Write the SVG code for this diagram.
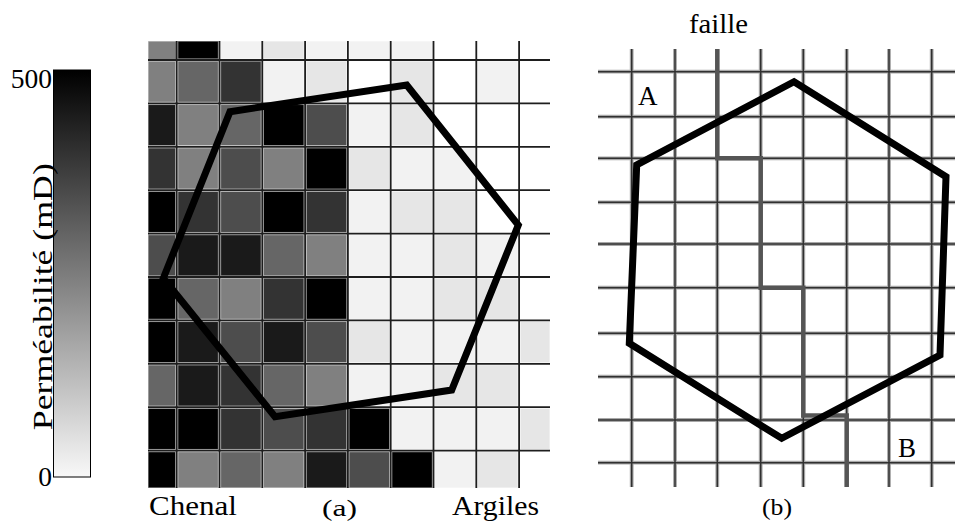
<svg xmlns="http://www.w3.org/2000/svg" width="955" height="523" viewBox="0 0 955 523">
<style>
.t{font-family:"Liberation Serif","DejaVu Serif",serif;fill:#000}
.ga{stroke:#1e1e1e;stroke-width:1.8;fill:none}
.gbh{stroke:#a8a8a8;stroke-width:3.8;fill:none}
.gb{stroke:#303030;stroke-width:1.5;fill:none}
.hex{fill:none;stroke:#000;stroke-width:7;stroke-linejoin:miter}
.cell{stroke:#ffffff;stroke-opacity:0.55;stroke-width:1.3}
</style>
<defs>
<linearGradient id="cb" x1="0" y1="0" x2="0" y2="1">
<stop offset="0" stop-color="#000"/>
<stop offset="1" stop-color="#f8f8f8"/>
</linearGradient>
</defs>
<rect width="955" height="523" fill="#fff"/>

<g id="colorbar">
<rect x="53.5" y="70" width="37" height="407" fill="url(#cb)" stroke="#000" stroke-width="1"/>
<text class="t" x="52" y="88" font-size="27.5" text-anchor="end">500</text>
<text class="t" x="52" y="486" font-size="27.5" text-anchor="end">0</text>
<text class="t" transform="translate(52,296.7) rotate(-90)" font-size="28" text-anchor="middle" textLength="267" lengthAdjust="spacingAndGlyphs">Perméabilité (mD)</text>
</g>

<g id="panel-a">
<g id="cells-a">
<!-- row 0 -->
<rect class="cell" x="148" y="41" width="28.7" height="19" fill="#808080"/>
<rect class="cell" x="177.7" y="41" width="40.8" height="18" fill="#000"/>
<rect class="cell" x="220.5" y="41" width="40.8" height="18" fill="#f2f2f2"/>
<rect class="cell" x="263.3" y="41" width="40.8" height="18" fill="#e6e6e6"/>
<rect class="cell" x="306.1" y="41" width="40.8" height="18" fill="#f2f2f2"/>
<rect class="cell" x="348.9" y="41" width="40.8" height="18" fill="#f2f2f2"/>
<rect class="cell" x="391.7" y="41" width="40.8" height="18" fill="#f2f2f2"/>
<!-- row 1 -->
<rect class="cell" x="148" y="61" width="27.7" height="41.4" fill="#808080"/>
<rect class="cell" x="177.7" y="61" width="40.8" height="41.4" fill="#666"/>
<rect class="cell" x="220.5" y="61" width="40.8" height="41.4" fill="#333"/>
<rect class="cell" x="263.3" y="61" width="40.8" height="41.4" fill="#f2f2f2"/>
<rect class="cell" x="306.1" y="61" width="40.8" height="41.4" fill="#e6e6e6"/>
<rect class="cell" x="391.7" y="61" width="40.8" height="41.4" fill="#e6e6e6"/>
<rect class="cell" x="477.3" y="61" width="40.8" height="41.4" fill="#f2f2f2"/>
<!-- row 2 -->
<rect class="cell" x="148" y="104.4" width="27.7" height="41.4" fill="#1a1a1a"/>
<rect class="cell" x="177.7" y="104.4" width="40.8" height="41.4" fill="#808080"/>
<rect class="cell" x="220.5" y="104.4" width="40.8" height="41.4" fill="#666"/>
<rect class="cell" x="263.3" y="104.4" width="40.8" height="41.4" fill="#000"/>
<rect class="cell" x="306.1" y="104.4" width="40.8" height="41.4" fill="#4d4d4d"/>
<rect class="cell" x="348.9" y="104.4" width="40.8" height="41.4" fill="#f2f2f2"/>
<rect class="cell" x="391.7" y="104.4" width="40.8" height="41.4" fill="#e6e6e6"/>
<!-- row 3 -->
<rect class="cell" x="148" y="147.8" width="27.7" height="41.4" fill="#333"/>
<rect class="cell" x="177.7" y="147.8" width="40.8" height="41.4" fill="#808080"/>
<rect class="cell" x="220.5" y="147.8" width="40.8" height="41.4" fill="#4d4d4d"/>
<rect class="cell" x="263.3" y="147.8" width="40.8" height="41.4" fill="#808080"/>
<rect class="cell" x="306.1" y="147.8" width="40.8" height="41.4" fill="#000"/>
<rect class="cell" x="348.9" y="147.8" width="40.8" height="41.4" fill="#e6e6e6"/>
<rect class="cell" x="391.7" y="147.8" width="40.8" height="41.4" fill="#f2f2f2"/>
<rect class="cell" x="434.5" y="147.8" width="40.8" height="41.4" fill="#f2f2f2"/>
<!-- row 4 -->
<rect class="cell" x="148" y="191.2" width="27.7" height="41.4" fill="#000"/>
<rect class="cell" x="177.7" y="191.2" width="40.8" height="41.4" fill="#333"/>
<rect class="cell" x="220.5" y="191.2" width="40.8" height="41.4" fill="#4d4d4d"/>
<rect class="cell" x="263.3" y="191.2" width="40.8" height="41.4" fill="#000"/>
<rect class="cell" x="306.1" y="191.2" width="40.8" height="41.4" fill="#333"/>
<rect class="cell" x="348.9" y="191.2" width="40.8" height="41.4" fill="#f2f2f2"/>
<rect class="cell" x="391.7" y="191.2" width="40.8" height="41.4" fill="#e6e6e6"/>
<rect class="cell" x="434.5" y="191.2" width="40.8" height="41.4" fill="#e6e6e6"/>
<!-- row 5 -->
<rect class="cell" x="148" y="234.6" width="27.7" height="41.4" fill="#4d4d4d"/>
<rect class="cell" x="177.7" y="234.6" width="40.8" height="41.4" fill="#1a1a1a"/>
<rect class="cell" x="220.5" y="234.6" width="40.8" height="41.4" fill="#1a1a1a"/>
<rect class="cell" x="263.3" y="234.6" width="40.8" height="41.4" fill="#666"/>
<rect class="cell" x="306.1" y="234.6" width="40.8" height="41.4" fill="#808080"/>
<rect class="cell" x="348.9" y="234.6" width="40.8" height="41.4" fill="#f2f2f2"/>
<rect class="cell" x="391.7" y="234.6" width="40.8" height="41.4" fill="#f2f2f2"/>
<rect class="cell" x="434.5" y="234.6" width="40.8" height="41.4" fill="#e6e6e6"/>
<rect class="cell" x="477.3" y="234.6" width="40.8" height="41.4" fill="#f2f2f2"/>
<!-- row 6 -->
<rect class="cell" x="148" y="278" width="27.7" height="41.4" fill="#000"/>
<rect class="cell" x="177.7" y="278" width="40.8" height="41.4" fill="#666"/>
<rect class="cell" x="220.5" y="278" width="40.8" height="41.4" fill="#808080"/>
<rect class="cell" x="263.3" y="278" width="40.8" height="41.4" fill="#333"/>
<rect class="cell" x="306.1" y="278" width="40.8" height="41.4" fill="#000"/>
<rect class="cell" x="348.9" y="278" width="40.8" height="41.4" fill="#f2f2f2"/>
<rect class="cell" x="391.7" y="278" width="40.8" height="41.4" fill="#f2f2f2"/>
<rect class="cell" x="434.5" y="278" width="40.8" height="41.4" fill="#e6e6e6"/>
<rect class="cell" x="477.3" y="278" width="40.8" height="41.4" fill="#e6e6e6"/>
<!-- row 7 -->
<rect class="cell" x="148" y="321.4" width="27.7" height="41.4" fill="#000"/>
<rect class="cell" x="177.7" y="321.4" width="40.8" height="41.4" fill="#1a1a1a"/>
<rect class="cell" x="220.5" y="321.4" width="40.8" height="41.4" fill="#4d4d4d"/>
<rect class="cell" x="263.3" y="321.4" width="40.8" height="41.4" fill="#1a1a1a"/>
<rect class="cell" x="306.1" y="321.4" width="40.8" height="41.4" fill="#4d4d4d"/>
<rect class="cell" x="348.9" y="321.4" width="40.8" height="41.4" fill="#e6e6e6"/>
<rect class="cell" x="391.7" y="321.4" width="40.8" height="41.4" fill="#f2f2f2"/>
<rect class="cell" x="434.5" y="321.4" width="40.8" height="41.4" fill="#f2f2f2"/>
<rect class="cell" x="477.3" y="321.4" width="40.8" height="41.4" fill="#f2f2f2"/>
<rect class="cell" x="520.1" y="321.4" width="29.9" height="41.4" fill="#e6e6e6"/>
<!-- row 8 -->
<rect class="cell" x="148" y="364.8" width="27.7" height="41.4" fill="#666"/>
<rect class="cell" x="177.7" y="364.8" width="40.8" height="41.4" fill="#1a1a1a"/>
<rect class="cell" x="220.5" y="364.8" width="40.8" height="41.4" fill="#333"/>
<rect class="cell" x="263.3" y="364.8" width="40.8" height="41.4" fill="#666"/>
<rect class="cell" x="306.1" y="364.8" width="40.8" height="41.4" fill="#808080"/>
<rect class="cell" x="348.9" y="364.8" width="40.8" height="41.4" fill="#f2f2f2"/>
<rect class="cell" x="391.7" y="364.8" width="40.8" height="41.4" fill="#f2f2f2"/>
<rect class="cell" x="434.5" y="364.8" width="40.8" height="41.4" fill="#e6e6e6"/>
<rect class="cell" x="477.3" y="364.8" width="40.8" height="41.4" fill="#e6e6e6"/>
<!-- row 9 -->
<rect class="cell" x="148" y="408.2" width="27.7" height="41.4" fill="#000"/>
<rect class="cell" x="177.7" y="408.2" width="40.8" height="41.4" fill="#000"/>
<rect class="cell" x="220.5" y="408.2" width="40.8" height="41.4" fill="#333"/>
<rect class="cell" x="263.3" y="408.2" width="40.8" height="41.4" fill="#4d4d4d"/>
<rect class="cell" x="306.1" y="408.2" width="40.8" height="41.4" fill="#333"/>
<rect class="cell" x="348.9" y="408.2" width="40.8" height="41.4" fill="#000"/>
<rect class="cell" x="391.7" y="408.2" width="40.8" height="41.4" fill="#f2f2f2"/>
<rect class="cell" x="434.5" y="408.2" width="40.8" height="41.4" fill="#f2f2f2"/>
<rect class="cell" x="477.3" y="408.2" width="40.8" height="41.4" fill="#f2f2f2"/>
<rect class="cell" x="520.1" y="408.2" width="29.9" height="41.4" fill="#e6e6e6"/>
<!-- row 10 -->
<rect class="cell" x="148" y="451.6" width="27.7" height="36.4" fill="#000"/>
<rect class="cell" x="177.7" y="451.6" width="40.8" height="36.4" fill="#808080"/>
<rect class="cell" x="220.5" y="451.6" width="40.8" height="36.4" fill="#666"/>
<rect class="cell" x="263.3" y="451.6" width="40.8" height="36.4" fill="#808080"/>
<rect class="cell" x="306.1" y="451.6" width="40.8" height="36.4" fill="#1a1a1a"/>
<rect class="cell" x="348.9" y="451.6" width="40.8" height="36.4" fill="#4d4d4d"/>
<rect class="cell" x="391.7" y="451.6" width="40.8" height="36.4" fill="#000"/>
<rect class="cell" x="434.5" y="451.6" width="40.8" height="36.4" fill="#f2f2f2"/>
<rect class="cell" x="477.3" y="451.6" width="40.8" height="36.4" fill="#e6e6e6"/>
</g>
<path id="grid-a" class="ga" d="M176.7 41V488M219.5 41V488M262.3 41V488M305.1 41V488M347.9 41V488M390.7 41V488M433.5 41V488M476.3 41V488M519.1 41V488M148 60H550M148 103.4H550M148 146.8H550M148 190.2H550M148 233.6H550M148 277H550M148 320.4H550M148 363.8H550M148 407.2H550M148 450.6H550"/>
<polygon id="hex-a" class="hex" points="230,111.7 406.7,85 518.3,225 451.7,390 275,416.7 163.3,278.3"/>
<text class="t" x="149" y="515" font-size="28" textLength="88" lengthAdjust="spacingAndGlyphs">Chenal</text>
<text class="t" x="322" y="516" font-size="23" textLength="35" lengthAdjust="spacingAndGlyphs">(a)</text>
<text class="t" x="452" y="515" font-size="28" textLength="87" lengthAdjust="spacingAndGlyphs">Argiles</text>
</g>

<g id="panel-b">
<g id="grid-b">
<path class="gbh" d="M631.7 49V487M675 49V487M717.3 49V487M760.7 49V487M803.3 49V487M846.7 49V487M889 49V487M931.7 49V487M598 71.7H955M598 116.7H955M598 158.3H955M598 202.3H955M598 244H955M598 287.7H955M598 333.3H955M598 376.7H955M598 420H955M598 462.7H955"/>
<path class="gb" d="M631.7 49V487M675 49V487M717.3 49V487M760.7 49V487M803.3 49V487M846.7 49V487M889 49V487M931.7 49V487M598 71.7H955M598 116.7H955M598 158.3H955M598 202.3H955M598 244H955M598 287.7H955M598 333.3H955M598 376.7H955M598 420H955M598 462.7H955"/>
</g>
<path id="fault" d="M717.3 49V158.3H760.7V287.7H803.3V415.5H846.7V487" fill="none" stroke="#555" stroke-width="4.5" stroke-linejoin="miter"/>
<polygon id="hex-b" class="hex" stroke-width="6.5" points="794,81.7 946,176.7 940,355 781.7,438.3 629.3,343.3 636.7,165"/>
<text class="t" x="638" y="105" font-size="27">A</text>
<text class="t" x="898" y="456.5" font-size="27">B</text>
<text class="t" x="689" y="33" font-size="27" textLength="59" lengthAdjust="spacingAndGlyphs">faille</text>
<text class="t" x="762" y="515" font-size="23" textLength="30" lengthAdjust="spacingAndGlyphs">(b)</text>
</g>
</svg>
